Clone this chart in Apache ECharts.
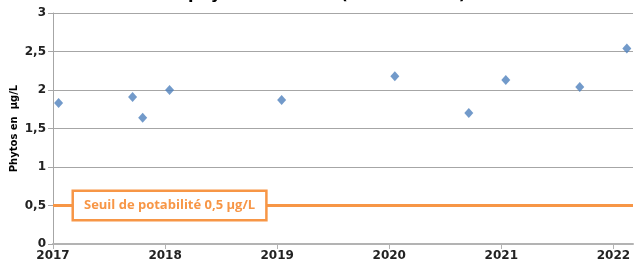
<!DOCTYPE html>
<html>
<head>
    <meta charset="UTF-8">
    <title>Phytos</title>
    <script src="https://cdn.jsdelivr.net/npm/echarts@6/dist/echarts.min.js"></script>
    <style>
        html, body { margin: 0; padding: 0; background: #fff; }
        #chart { width: 635px; height: 265px; }
    </style>
</head>
<body>
<div id="chart"></div>
<script>
    // dates en années décimales, valeurs en µg/L
    var sampleDates = [2017.05, 2017.71, 2017.80, 2018.04, 2019.04, 2020.05, 2020.71, 2021.04, 2021.70, 2022.12];
    var phytoValues = [1.83, 1.91, 1.64, 2.00, 1.87, 2.18, 1.70, 2.13, 2.04, 2.54];
    var yearTicks = [2017, 2018, 2019, 2020, 2021, 2022];
    var seuil = 0.5;
    var seuilLabel = 'Seuil de potabilité 0,5 µg/L';

    var points = sampleDates.map(function (d, i) { return [d, phytoValues[i]]; });

    var myChart = echarts.init(document.getElementById('chart'));
    var option = {
        animation: false,
        title: {
            text: 'phytosanitaires  (2017 à 2022)',
            left: 183,
            top: -18,
            textStyle: { fontFamily: 'DejaVu Sans', fontWeight: 'bold', fontSize: 16, color: '#000' }
        },
        grid: { left: 53, right: 2, top: 13, bottom: 21, outerBoundsMode: 'none' },
        xAxis: {
            type: 'value',
            min: 2017,
            max: 2022.175,
            interval: 1,
            splitLine: { show: false },
            axisLine: { lineStyle: { color: '#b3b3b3', width: 2 } },
            axisTick: { customValues: yearTicks, length: 5, lineStyle: { color: '#b3b3b3' } },
            axisLabel: {
                customValues: yearTicks,
                formatter: function (v) { return String(v); },
                margin: 6,
                fontFamily: 'DejaVu Sans', fontWeight: 'bold', fontSize: 12, color: '#222'
            }
        },
        yAxis: {
            type: 'value',
            min: 0,
            max: 3,
            interval: 0.5,
            name: 'Phytos en  µg/L',
            nameLocation: 'middle',
            nameGap: 34,
            nameMoveOverlap: false,
            nameTextStyle: { fontFamily: 'DejaVu Sans', fontWeight: 'bold', fontSize: 10, color: '#000' },
            axisLine: { show: true, lineStyle: { color: '#a6a6a6' } },
            axisTick: { show: true, length: 5, lineStyle: { color: '#a6a6a6' } },
            splitLine: { lineStyle: { color: '#a6a6a6' } },
            axisLabel: {
                margin: 7,
                formatter: function (v) { return String(v).replace('.', ','); },
                fontFamily: 'DejaVu Sans', fontWeight: 'bold', fontSize: 12, color: '#222'
            }
        },
        series: [{
            type: 'scatter',
            data: points,
            symbol: 'diamond',
            symbolSize: [9, 10],
            itemStyle: { color: '#4F81BD' },
            markLine: {
                silent: true,
                symbol: 'none',
                label: { show: false },
                lineStyle: { color: '#F79646', width: 3, type: 'solid' },
                data: [{ yAxis: seuil }]
            },
            markPoint: {
                silent: true,
                symbol: 'rect',
                symbolSize: 0,
                data: [{ coord: [2018.04, seuil] }],
                label: {
                    show: true,
                    position: 'inside',
                    formatter: seuilLabel,
                    fontFamily: 'Open Sans', fontWeight: 'bold', fontSize: 13, color: '#F79646',
                    backgroundColor: '#fff',
                    borderColor: '#F79646',
                    borderWidth: 2.5,
                    padding: [7, 10, 7, 10]
                }
            }
        }]
    };
    myChart.setOption(option);
</script>
</body>
</html>
